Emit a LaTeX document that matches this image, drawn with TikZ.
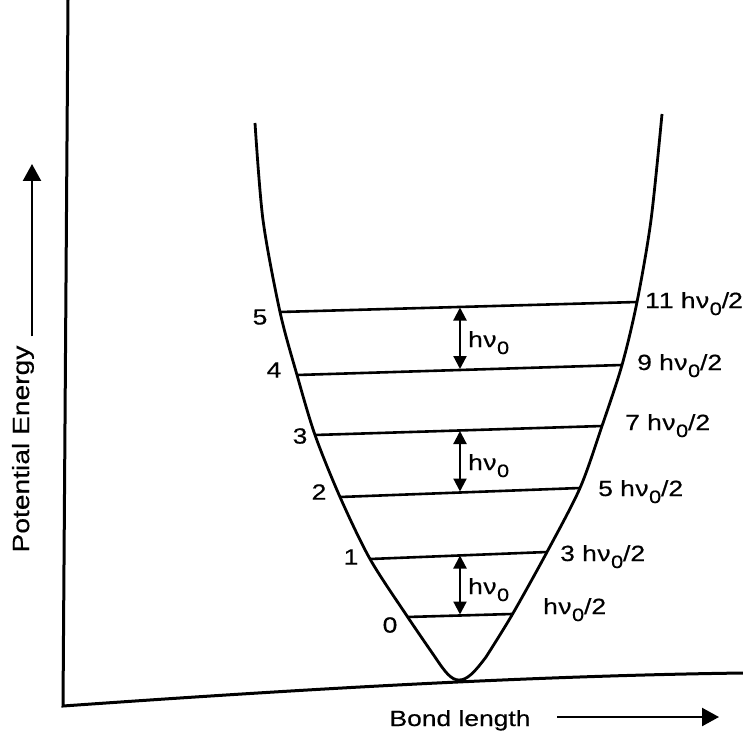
\documentclass[tikz,border=0pt]{standalone}
\usepackage{fontspec}
\setmainfont{Liberation Sans}[FakeStretch=1.2,FakeBold=0.5]
\usetikzlibrary{arrows.meta}
\newcommand{\nusub}{\raisebox{-0.32em}{\fontsize{18}{20}\selectfont 0}}
\newcommand{\hvo}{h\kern0.5pt ν\kern0.5pt\nusub}
\tikzset{
  axisline/.style={line width=3pt, line join=miter},
  wellcurve/.style={line width=2.8pt, line join=round},
  enline/.style={line width=2.6pt},
  dblarrow/.style={line width=2.2pt, {Triangle[length=13pt,width=13pt]}-{Triangle[length=13pt,width=13pt]}},
  dirarrow/.style={line width=2.3pt, -{Triangle[length=17pt,width=18pt]}},
  lbl/.style={font=\fontsize{22}{26}\selectfont, inner sep=0pt},
  numlbl/.style={font=\fontsize{22}{26}\selectfont, inner sep=0pt, anchor=center},
  axlbl/.style={font=\fontsize{23.5}{28}\selectfont, inner sep=0pt},
}
\begin{document}
\begin{tikzpicture}[x=1pt,y=-1pt]
\useasboundingbox (0,0) rectangle (743,735);

% axes
\coordinate (yTop) at (68,0);
\coordinate (origin) at (63,706);
\coordinate (xEnd) at (743,673);
\draw[axisline] (yTop) -- (origin) .. controls (290,690) and (520,676) .. (xEnd);

% axis labels and arrows
\node[axlbl, rotate=90] (pe) at (23,449) {Potential Energy};
\coordinate (peTip) at (32,164);
\draw[dirarrow] (pe.east -| peTip) ++(0,-9) coordinate (peStart) -- (peTip);
\node[lbl, anchor=base] (bl) at (460,726) {Bond length};
\coordinate (blStart) at (557,717);
\coordinate (blTip) at (719,717);
\draw[dirarrow] (blStart) -- (blTip);

% potential well
\coordinate (wL) at (435,657);
\coordinate (wV) at (459,680);
\coordinate (wR) at (486,657);
\draw[wellcurve] plot[smooth, tension=0.5] coordinates {
  (255,123) (263,220) (280,312) (297,375) (315,435) (340,497) (370,559)
  (407,616) (wL)}
  .. controls (445,672) and (451,680) .. (wV)
  .. controls (467,680) and (474,673) .. (wR)
  -- plot[smooth, tension=0.5] coordinates {
  (wR) (512,615) (547,552) (580,488) (602,426) (622,365) (637,302)
  (651,220) (662,114)};

% energy levels
\coordinate (L5a) at (280,312); \coordinate (L5b) at (637,302);
\coordinate (L4a) at (297,375); \coordinate (L4b) at (622,365);
\coordinate (L3a) at (315,435); \coordinate (L3b) at (602,426);
\coordinate (L2a) at (340,497); \coordinate (L2b) at (580,488);
\coordinate (L1a) at (370,559); \coordinate (L1b) at (547,552);
\coordinate (L0a) at (407,617); \coordinate (L0b) at (512,614);
\draw[enline] (L5a) -- (L5b);
\draw[enline] (L4a) -- (L4b);
\draw[enline] (L3a) -- (L3b);
\draw[enline] (L2a) -- (L2b);
\draw[enline] (L1a) -- (L1b);
\draw[enline] (L0a) -- (L0b);

% quantum numbers
\node[numlbl] (n5) at (260,317) {5};
\node[numlbl] (n4) at (274,370) {4};
\node[numlbl] (n3) at (300,436) {3};
\node[numlbl] (n2) at (319,492) {2};
\node[numlbl] (n1) at (351,557) {1};
\node[numlbl] (n0) at (390,625) {0};

% energies
\node[lbl, anchor=base west] (e5) at (645,308) {1\kern-1pt 1 \hvo/\kern-1pt 2};
\node[lbl, anchor=base west] (e4) at (637,370) {9 \hvo/2};
\node[lbl, anchor=base west] (e3) at (625,430) {7 \hvo/2};
\node[lbl, anchor=base west] (e2) at (598,496) {5 \hvo/2};
\node[lbl, anchor=base west] (e1) at (560,561) {3 \hvo/2};
\node[lbl, anchor=base west] (e0) at (543,614) {\hvo/2};

% spacing arrows
\coordinate (A5) at (460,307.5); \coordinate (A4) at (460,369);
\coordinate (A3) at (460,431); \coordinate (A2) at (460,491.5);
\coordinate (A1) at (460,555.5); \coordinate (A0) at (460,614.5);
\draw[dblarrow] (A5) -- (A4);
\draw[dblarrow] (A3) -- (A2);
\draw[dblarrow] (A1) -- (A0);
\node[lbl, anchor=base west] (d54) at (468,347) {\hvo};
\node[lbl, anchor=base west] (d32) at (468,470) {\hvo};
\node[lbl, anchor=base west] (d10) at (468,594) {\hvo};
\end{tikzpicture}
\end{document}
